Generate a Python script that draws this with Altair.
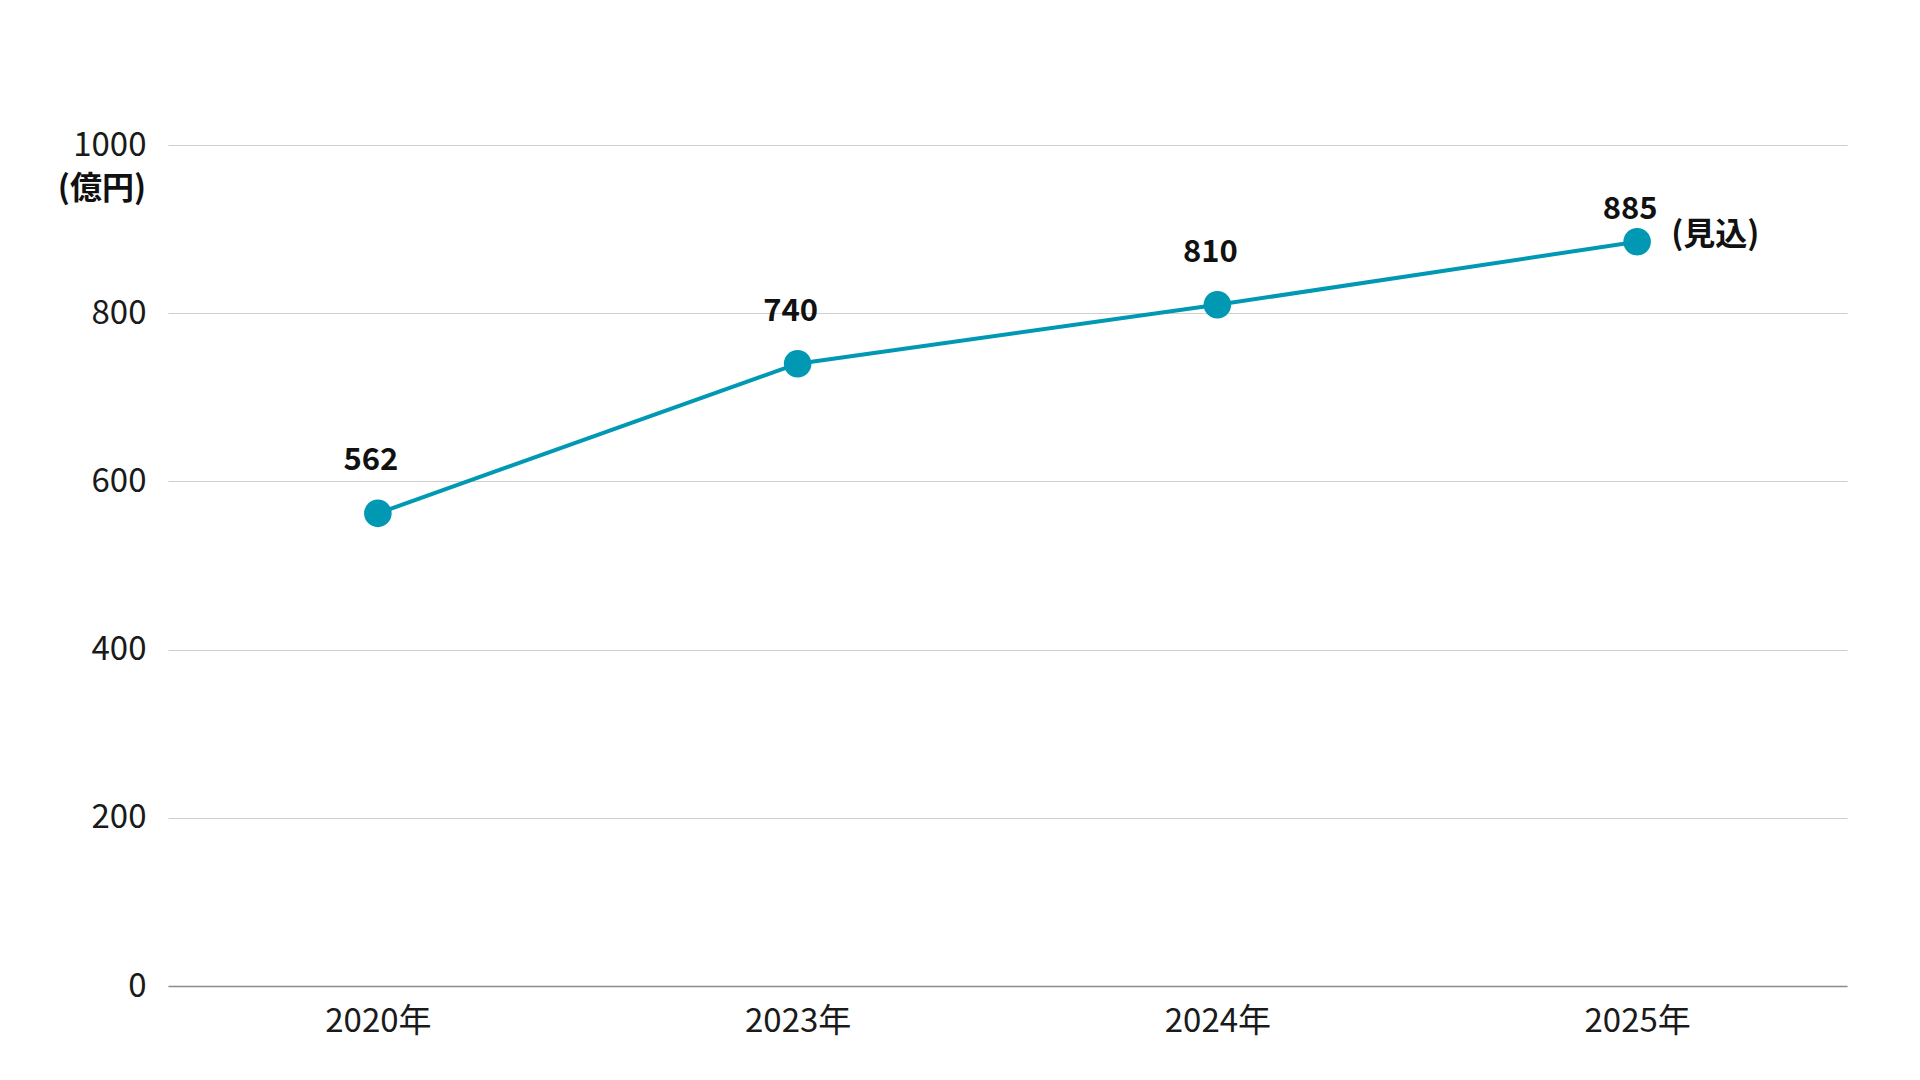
import altair as alt
import pandas as pd

years = ["2020年", "2023年", "2024年", "2025年"]
values = [562, 740, 810, 885]
notes = ["", "", "", "(見込)"]
unit_label = "(億円)"
y_ticks = [0, 200, 400, 600, 800, 1000]

df = pd.DataFrame({"year": years, "value": values, "note": notes})

FONT = "Noto Sans CJK JP"
COLOR = "#0098B3"

x = alt.X("year:N", sort=years,
          scale=alt.Scale(type="point", padding=0.5),
          axis=alt.Axis(title=None, labelAngle=0, labelFontSize=33, labelFont=FONT,
                        labelColor="#1a1a1a", ticks=False, domainColor="#8c8c8c",
                        domainWidth=1.5, labelPadding=19, grid=False))
y = alt.Y("value:Q", scale=alt.Scale(domain=[0, 1000], nice=False),
          axis=alt.Axis(title=None, values=y_ticks, format="d", labelFontSize=33,
                        labelFont=FONT, labelColor="#1a1a1a", ticks=False, domain=False,
                        labelPadding=22, gridColor="#d0d0d0", gridWidth=1.2))

base = alt.Chart(df)
line = base.mark_line(color=COLOR, strokeWidth=4).encode(x=x, y=y)
pts = base.mark_circle(color=COLOR, size=760, opacity=1).encode(x=x, y=y)
vals = base.transform_filter("datum.note == ''").mark_text(
    font=FONT, fontSize=31, fontWeight="bold", color="#111111",
    dy=-52, dx=-7).encode(x=x, y=y, text="value:Q")
vals_last = base.transform_filter("datum.note != ''").mark_text(
    font=FONT, fontSize=31, fontWeight="bold", color="#111111",
    dy=-32, dx=-7).encode(x=x, y=y, text="value:Q")
note = base.mark_text(font=FONT, fontSize=32, fontWeight="bold", color="#111111",
                      align="left", dx=34, dy=-7).encode(
    x=x, y=y, text="note:N")
unit = alt.Chart(pd.DataFrame({"t": [unit_label]})).mark_text(
    font=FONT, fontSize=32, fontWeight="bold", color="#111111", align="right"
).encode(x=alt.value(-22), y=alt.value(44), text="t:N")

chart = alt.layer(line, pts, vals, vals_last, note, unit).properties(
    width=1679, height=841,
    padding={"left": 160, "top": 137, "right": 65, "bottom": 70},
    autosize=alt.AutoSizeParams(type="none"),
    background="white",
).configure_view(stroke=None)

chart.save("out.html", embed_options={"renderer": "svg", "actions": False})
